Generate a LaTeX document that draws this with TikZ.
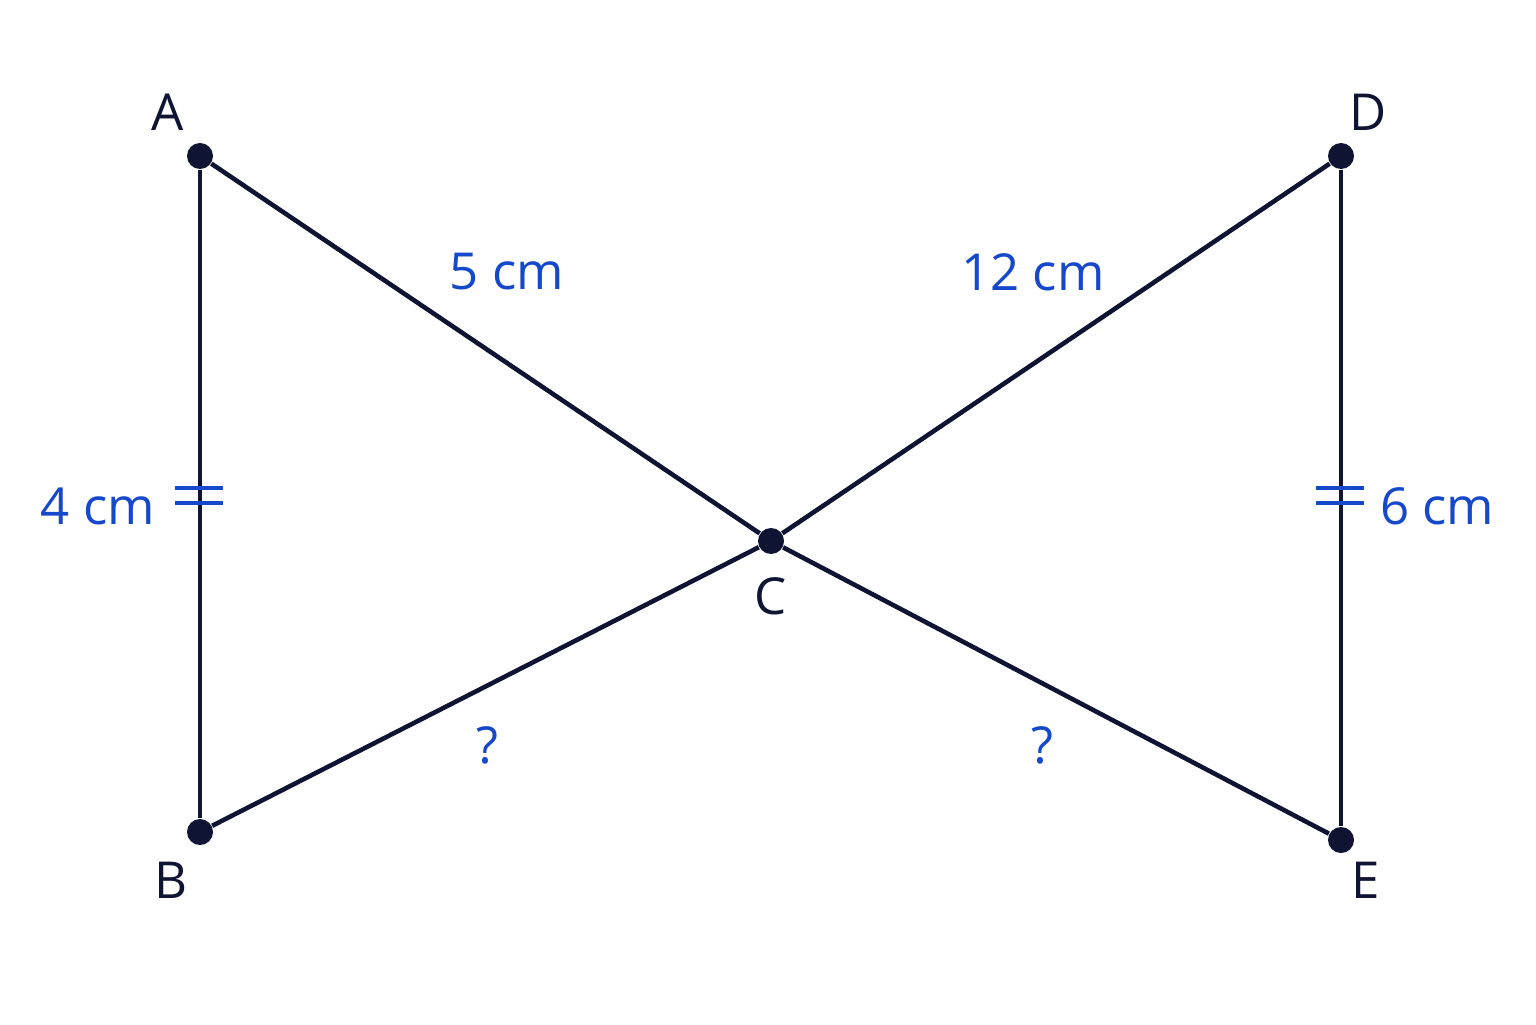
\documentclass[tikz,border=0pt]{standalone}
\usepackage{fontspec}
\setmainfont{Open Sans}
\usepackage{xcolor}
\definecolor{edge}{RGB}{14,20,50}
\definecolor{measure}{RGB}{22,72,204}
\tikzstyle{vertex}=[circle, fill=edge, inner sep=0pt, minimum size=0.26cm]
\tikzstyle{side}=[line width=1.3pt, color=edge]
\tikzstyle{tick}=[line width=1.4pt, color=measure]
\tikzstyle{letter}=[text=edge, font=\fontsize{14.5}{16}\selectfont]
\tikzstyle{length}=[text=measure, font=\fontsize{14.5}{16}\selectfont]

\begin{document}
\begin{tikzpicture}
  \useasboundingbox[fill=white] (0,0) rectangle (15.36,10.24);

  \draw (2,8.68) node[vertex] (A) {};
  \draw (2,1.92) node[vertex] (B) {};
  \draw (7.71,4.83) node[vertex] (C) {};
  \draw (13.41,8.68) node[vertex] (D) {};
  \draw (13.41,1.84) node[vertex] (E) {};

  \draw[side] (A) -- (B);
  \draw[side] (A) -- (C);
  \draw[side] (C) -- (E);
  \draw[side] (B) -- (C);
  \draw[side] (C) -- (D);
  \draw[side] (D) -- (E);

  %% Equal marks
  \coordinate (tAB) at (2,5.285);
  \coordinate (tDE) at (13.41,5.285);
  \draw[tick] ([xshift=-0.25cm,yshift=0.075cm]tAB) -- ([xshift=0.23cm,yshift=0.075cm]tAB);
  \draw[tick] ([xshift=-0.25cm,yshift=-0.075cm]tAB) -- ([xshift=0.23cm,yshift=-0.075cm]tAB);
  \draw[tick] ([xshift=-0.25cm,yshift=0.075cm]tDE) -- ([xshift=0.23cm,yshift=0.075cm]tDE);
  \draw[tick] ([xshift=-0.25cm,yshift=-0.075cm]tDE) -- ([xshift=0.23cm,yshift=-0.075cm]tDE);

  %% Vertex names
  \draw (1.68,9.12) node[letter] (lA) {A};
  \draw (1.71,1.44) node[letter] (lB) {B};
  \draw (7.71,4.28) node[letter] (lC) {C};
  \draw (13.68,9.12) node[letter] (lD) {D};
  \draw (13.66,1.44) node[letter] (lE) {E};

  %% Lengths
  \draw (5.07,7.52) node[length] (lAC) {5 cm};
  \draw (10.33,7.52) node[length] (lCD) {12 cm};
  \draw (0.98,5.18) node[length] (lAB) {4 cm};
  \draw (14.37,5.18) node[length] (lDE) {6 cm};
  \draw (4.87,2.79) node[length] (lBC) {?};
  \draw (10.42,2.79) node[length] (lCE) {?};
\end{tikzpicture}
\end{document}
